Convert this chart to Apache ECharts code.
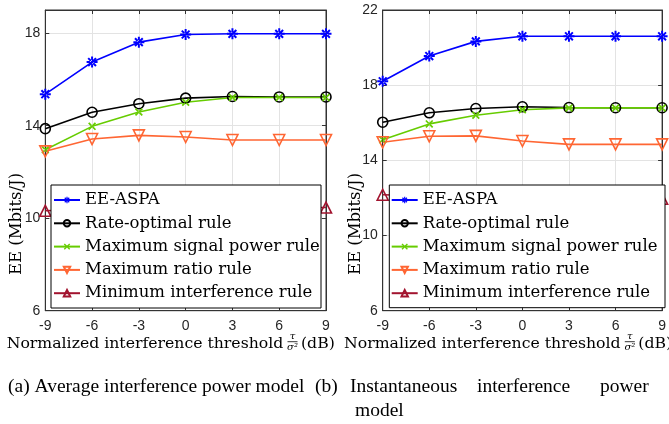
<!DOCTYPE html>
<html>
<head>
<meta charset="utf-8">
<script src="https://cdn.jsdelivr.net/npm/echarts@6/dist/echarts.min.js"></script>
<style>
  html, body { margin: 0; padding: 0; background: #fff; }
  #chart { width: 669px; height: 424px; }
</style>
</head>
<body>
<div id="chart"></div>
<script>
// x values (dB)
const thresholdDb = [-9, -6, -3, 0, 3, 6, 9];
const xTicks = [-9, -6, -3, 0, 3, 6, 9];
const yTicksA = [6, 10, 14, 18];
const yTicksB = [6, 10, 14, 18, 22];

const seriesNames = ['EE-ASPA', 'Rate-optimal rule', 'Maximum signal power rule', 'Maximum ratio rule', 'Minimum interference rule'];

// (a) average interference power model
const eeAspaA     = [15.36, 16.75, 17.61, 17.94, 17.97, 17.97, 17.97];
const rateOptA    = [13.87, 14.58, 14.95, 15.19, 15.26, 15.24, 15.24];
const maxSignalA  = [12.96, 13.97, 14.59, 15.01, 15.22, 15.22, 15.22];
const maxRatioA   = [12.89, 13.42, 13.58, 13.51, 13.38, 13.38, 13.38];
const minInterfA  = [10.32, 10.40, 10.44, 10.45, 10.46, 10.46, 10.46];

// (b) instantaneous interference power model
const eeAspaB     = [18.21, 19.55, 20.33, 20.60, 20.60, 20.60, 20.60];
const rateOptB    = [16.03, 16.53, 16.76, 16.85, 16.81, 16.80, 16.80];
const maxSignalB  = [15.10, 15.94, 16.40, 16.69, 16.79, 16.79, 16.79];
const maxRatioB   = [14.96, 15.28, 15.30, 15.03, 14.85, 14.85, 14.85];
const minInterfB  = [12.17, 12.10, 12.05, 12.00, 11.98, 11.96, 11.96];

const captionA = '(a) Average interference power model';
const captionB = ['(b)', 'Instantaneous', 'interference', 'power'];
const captionB2 = 'model';

const asterisk = 'path://M-5,-0.9L5,-0.9L5,0.9L-5,0.9ZM-0.9,-5L0.9,-5L0.9,5L-0.9,5ZM2.9,4.172L4.172,2.9L-2.9,-4.172L-4.172,-2.9ZM-2.9,4.172L-4.172,2.9L2.9,-4.172L4.172,-2.9Z';
const cross = 'path://M2.9,4.172L4.172,2.9L-2.9,-4.172L-4.172,-2.9ZM-2.9,4.172L-4.172,2.9L2.9,-4.172L4.172,-2.9Z';

const styles = [
  { color: '#0000ff', symbol: asterisk, size: 11, hollow: false },
  { color: '#000000', symbol: 'circle', size: 10, hollow: true },
  { color: '#66cc00', symbol: cross, size: 8, hollow: false },
  { color: '#ff6633', symbol: 'triangle', size: 11, hollow: true, rotate: 180 },
  { color: '#a2142f', symbol: 'triangle', size: 11, hollow: true }
];

const axisColor = '#333333';
const gridColor = '#e3e3e3';
const serif = '"DejaVu Serif"';

function pairs(ys) {
  return thresholdDb.map((x, i) => [x, ys[i]]);
}

function makeSeries(name, ys, k, axisIdx) {
  const s = styles[k];
  return {
    name: name,
    type: 'line',
    xAxisIndex: axisIdx,
    yAxisIndex: axisIdx,
    data: pairs(ys),
    symbol: s.symbol,
    symbolSize: s.size,
    symbolRotate: s.rotate || 0,
    symbolKeepAspect: true,
    clip: false,
    lineStyle: { color: s.color, width: 1.6 },
    itemStyle: s.hollow
      ? { color: 'rgba(0,0,0,0)', borderColor: s.color, borderWidth: 1.6 }
      : { color: s.color, borderWidth: 0 },
    emphasis: { disabled: true },
    z: 2
  };
}

function xAxes(gridIdx) {
  const base = {
    type: 'value', gridIndex: gridIdx, min: -9, max: 9, interval: 3,
    axisLine: { show: true, onZero: false, lineStyle: { color: axisColor, width: 1 } },
    axisTick: { show: true, inside: true, length: 4, lineStyle: { color: axisColor } },
  };
  return [
    Object.assign({}, base, {
      position: 'bottom',
      axisLabel: { color: '#262626', fontFamily: 'Liberation Sans', fontSize: 14, margin: 8,
        formatter: v => xTicks.includes(v) ? String(v) : '' },
      splitLine: { show: true, lineStyle: { color: gridColor, width: 1 } }
    }),
    Object.assign({}, base, {
      position: 'top',
      axisLabel: { show: false },
      splitLine: { show: false }
    })
  ];
}

function yAxes(gridIdx, max, ticks) {
  const base = {
    type: 'value', gridIndex: gridIdx, min: 6, max: max, interval: 4,
    axisLine: { show: true, onZero: false, lineStyle: { color: axisColor, width: 1 } },
    axisTick: { show: true, inside: true, length: 4, lineStyle: { color: axisColor } },
  };
  return [
    Object.assign({}, base, {
      position: 'left',
      axisLabel: { color: '#262626', fontFamily: 'Liberation Sans', fontSize: 14, margin: 5,
        showMaxLabel: ticks.includes(max),
        formatter: v => ticks.includes(v) ? String(v) : '' },
      splitLine: { show: true, lineStyle: { color: gridColor, width: 1 } }
    }),
    Object.assign({}, base, {
      position: 'right',
      axisLabel: { show: false },
      splitLine: { show: false }
    })
  ];
}

function legendAt(left) {
  return {
    orient: 'vertical',
    left: left,
    top: 190,
    padding: 0,
    itemWidth: 26,
    itemHeight: 8,
    itemGap: 3.3,
    selectedMode: false,
    data: seriesNames,
    z: 10,
    textStyle: { fontFamily: serif, fontSize: 16.5, color: '#000', lineHeight: 20 }
  };
}

function xLabel(dx) {
  return [
    { type: 'text', x: 6.7 + dx, y: 344,
      style: { text: 'Normalized interference threshold', font: '15.7px ' + serif, fill: '#000',
        textAlign: 'left', textVerticalAlign: 'middle' } },
    { type: 'text', x: 292.5 + dx, y: 336.5,
      style: { text: 'τ', font: 'italic 10px ' + serif, fill: '#000',
        textAlign: 'center', textVerticalAlign: 'middle' } },
    { type: 'line', shape: { x1: 287.5 + dx, y1: 341.7, x2: 297.5 + dx, y2: 341.7 },
      style: { stroke: '#000', lineWidth: 0.8 } },
    { type: 'text', x: 292.5 + dx, y: 347.5,
      style: { text: 'σ²', font: 'italic 10px ' + serif, fill: '#000',
        textAlign: 'center', textVerticalAlign: 'middle' } },
    { type: 'text', x: 301 + dx, y: 344,
      style: { text: '(dB)', font: '15.7px ' + serif, fill: '#000',
        textAlign: 'left', textVerticalAlign: 'middle' } }
  ];
}

function yLabel(x) {
  return { type: 'text', x: x, y: 224, rotation: Math.PI / 2,
    style: { text: 'EE (Mbits/J)', font: '16.5px ' + serif, fill: '#000',
      textAlign: 'center', textVerticalAlign: 'middle' } };
}

const captionFont = '19.5px "Liberation Serif"';
const captionBX = [315, 350, 477, 600];

const graphics = [
  { type: 'rect', z: 5, shape: { x: 51, y: 185, width: 270, height: 123 },
    style: { fill: '#fff', stroke: '#000', lineWidth: 1 } },
  { type: 'rect', z: 5, shape: { x: 389.3, y: 185, width: 275.7, height: 122.7 },
    style: { fill: '#fff', stroke: '#000', lineWidth: 1 } },
  yLabel(17),
  yLabel(356),
  ...xLabel(0),
  ...xLabel(337.3),
  { type: 'text', x: 8, y: 387,
    style: { text: captionA, font: captionFont, fill: '#000', textAlign: 'left', textVerticalAlign: 'middle' } },
  ...captionB.map((w, i) => ({ type: 'text', x: captionBX[i], y: 387,
    style: { text: w, font: captionFont, fill: '#000', textAlign: 'left', textVerticalAlign: 'middle' } })),
  { type: 'text', x: 355, y: 411,
    style: { text: captionB2, font: captionFont, fill: '#000', textAlign: 'left', textVerticalAlign: 'middle' } }
];

const chart = echarts.init(document.getElementById('chart'), null, { renderer: 'canvas' });

chart.setOption({
  animation: false,
  backgroundColor: '#fff',
  grid: [
    { left: 45.3, top: 10, width: 280.7, height: 300.7, show: true, borderColor: axisColor, borderWidth: 1 },
    { left: 382.7, top: 10, width: 280, height: 300.7, show: true, borderColor: axisColor, borderWidth: 1 }
  ],
  xAxis: [...xAxes(0), ...xAxes(1)],
  yAxis: [...yAxes(0, 19, yTicksA), ...yAxes(1, 22, yTicksB)],
  legend: [legendAt(53), legendAt(390.7)],
  graphic: graphics,
  series: [
    makeSeries(seriesNames[0], eeAspaA, 0, 0),
    makeSeries(seriesNames[1], rateOptA, 1, 0),
    makeSeries(seriesNames[2], maxSignalA, 2, 0),
    makeSeries(seriesNames[3], maxRatioA, 3, 0),
    makeSeries(seriesNames[4], minInterfA, 4, 0),
    makeSeries(seriesNames[0], eeAspaB, 0, 2),
    makeSeries(seriesNames[1], rateOptB, 1, 2),
    makeSeries(seriesNames[2], maxSignalB, 2, 2),
    makeSeries(seriesNames[3], maxRatioB, 3, 2),
    makeSeries(seriesNames[4], minInterfB, 4, 2)
  ]
});
</script>
</body>
</html>
